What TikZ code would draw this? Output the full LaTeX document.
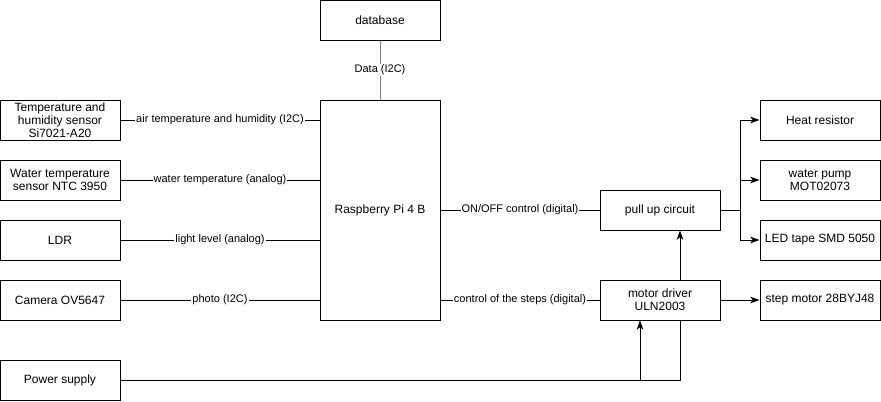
\documentclass[tikz,border=0pt]{standalone}
\usepackage{fontspec}
\setmainfont{Liberation Sans}
\usetikzlibrary{arrows.meta}

\begin{document}
\begin{tikzpicture}[x=0.75pt,y=-0.75pt,
    block/.style={draw,fill=white,line width=0.75pt,minimum width=90pt,minimum height=30pt,
        inner sep=1pt,align=center,font=\fontsize{9}{9.75}\selectfont},
    wire/.style={line width=0.75pt},
    lbl/.style={fill=white,inner sep=0.8pt,font=\fontsize{8.25}{9.5}\selectfont},
    arr/.style={wire,-{Stealth[length=7pt,width=5pt,inset=2pt]}}]

    \useasboundingbox (0,0) rectangle (881,401);

    % Controller and storage
    \node[block] (db) at (380,20) {database};
    \node[block,minimum height=165pt] (rpi) at (380,210) {Raspberry Pi 4 B};

    % Sensors
    \node[block] (temp) at (60,120) {Temperature and\\humidity sensor\\Si7021-A20};
    \node[block] (water) at (60,180) {Water temperature\\sensor NTC 3950};
    \node[block] (ldr) at (60,240) {LDR};
    \node[block] (cam) at (60,300) {Camera OV5647};
    \node[block] (power) at (60,380) {Power supply};

    % Drivers
    \node[block] (pullup) at (660,210) {pull up circuit};
    \node[block] (driver) at (660,300) {motor driver\\ULN2003};

    % Actuators
    \node[block] (heat) at (820,120) {Heat resistor};
    \node[block] (pump) at (820,180) {water pump\\MOT02073};
    \node[block] (led) at (820,240) {LED tape SMD 5050};
    \node[block] (stepper) at (820,300) {step motor 28BYJ48};

    % Data links
    \draw[wire,gray] (db) -- node[lbl,text=black] {Data (I2C)} (rpi);
    \draw[wire] (temp) -- node[lbl] {air temperature and humidity (I2C)} (temp -| rpi.west);
    \draw[wire] (water) -- node[lbl] {water temperature (analog)} (water -| rpi.west);
    \draw[wire] (ldr) -- node[lbl] {light level (analog)} (ldr -| rpi.west);
    \draw[wire] (cam) -- node[lbl] {photo (I2C)} (cam -| rpi.west);
    \draw[wire] (pullup -| rpi.east) -- node[lbl] {ON/OFF control (digital)} (pullup);
    \draw[wire] (driver -| rpi.east) -- node[lbl] {control of the steps (digital)} (driver);

    % Outputs
    \coordinate (split) at (740,210);
    \draw[wire] (pullup) -- (split);
    \draw[arr] (split) |- (heat);
    \draw[arr] (split) |- (pump);
    \draw[arr] (split) |- (led);
    \draw[arr] (driver) -- (stepper);
    \draw[arr] ([xshift=15pt]driver.north) -- ([xshift=15pt]pullup.south);

    % Power
    \draw[arr] (power) -| ([xshift=-15pt]driver.south);
    \draw[wire] (power) -| ([xshift=15pt]driver.south);
\end{tikzpicture}
\end{document}
